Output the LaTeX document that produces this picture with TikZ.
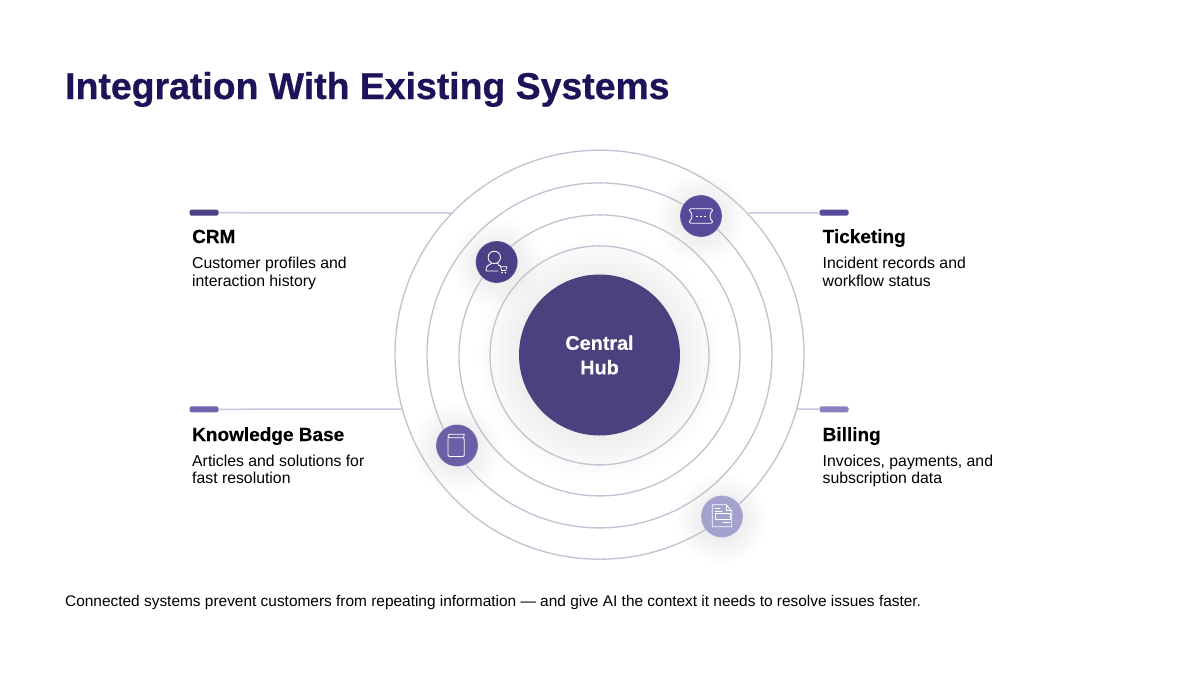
\documentclass[tikz,border=0pt]{standalone}
\usepackage{fontspec}
\setmainfont{Liberation Sans}
\newfontfamily\heavyface[FakeBold=0.7]{Liberation Sans Bold}
\newfontfamily\headface[FakeBold=0.25]{Liberation Sans Bold}
\definecolor{titlec}{HTML}{1F1259}
\definecolor{hubc}{HTML}{4A417F}
\definecolor{ringc}{HTML}{C5C3D3}
\definecolor{linec}{HTML}{C9C6DB}
\definecolor{crmc}{HTML}{4B4085}
\definecolor{tickc}{HTML}{574A9B}
\definecolor{kbc}{HTML}{6B5FA8}
\definecolor{billc}{HTML}{A5A1CF}
\definecolor{billbar}{HTML}{8A7FC0}
\definecolor{kbbar}{HTML}{6F62AE}
\tikzset{
  ring/.style={draw=ringc,line width=1.35pt,fill=none,circle,inner sep=0pt,minimum size=#1},
  barbox/.style={fill=#1,rounded corners=1.5pt,minimum width=29pt,minimum height=6pt,inner sep=0pt},
  leader/.style={draw=linec,line width=1.5pt},
  badge/.style={circle,inner sep=0pt,minimum size=42pt,fill=#1,draw=white,draw opacity=.25,line width=.8pt},
  heading/.style={anchor=base west,inner sep=0pt,font=\fontsize{19}{22}\selectfont\headface,text=black},
  desc/.style={anchor=base west,inner sep=0pt,font=\fontsize{15.8}{17}\selectfont,text=black,align=left},
  icon/.style={draw=white,line width=.85pt,line join=round,line cap=round,fill=none}
}
\newcommand{\softglow}[5]{% x y r step opacity
  \foreach \k in {1,...,16}{
    \fill[black,opacity=#5] (#1,#2) circle ({#3+\k*#4});
  }
}
\begin{document}
\begin{tikzpicture}[x=1pt,y=-1pt]
\useasboundingbox (0,0) rectangle (1200,675);
\fill[white] (0,0) rectangle (1200,675);
% soft glows
\softglow{599.5}{355}{205}{2.2}{.0011}
\softglow{599.5}{358}{80}{2.6}{.0055}
\softglow{497}{264}{20}{1.6}{.0055}
\softglow{701}{218}{20}{1.6}{.0055}
\softglow{457}{448}{20}{1.6}{.0055}
\softglow{722}{519}{20}{1.6}{.0055}
% rings
\coordinate (c) at (599.5,354.7);
\coordinate (d) at (599.5,355.4);
\node[ring=409pt] (r4) at (c) {};
\node[ring=345pt] (r3) at (d) {};
\node[ring=281pt] (r2) at (d) {};
\node[ring=219pt] (r1) at (d) {};
% hub
\node[circle,fill=hubc,minimum size=161pt,inner sep=0pt,text=white,align=center,
  font=\fontsize{19.8}{24.5}\selectfont\headface] (hub) at (599.5,355) {Central\\Hub};
% leaders and bars
\coordinate (crmEnd) at (451,213);
\coordinate (tickEnd) at (749,213);
\coordinate (kbEnd) at (402,409);
\coordinate (billEnd) at (797,409);
\node[barbox=crmc] (crmBar) at (204,212.7) {};
\node[barbox=tickc] (tickBar) at (834,212.7) {};
\node[barbox=kbbar] (kbBar) at (204,409.3) {};
\node[barbox=billbar] (billBar) at (834,409.3) {};
\draw[leader] (crmBar) -- (crmEnd);
\draw[leader] (tickBar) -- (tickEnd);
\draw[leader] (kbBar) -- (kbEnd);
\draw[leader] (billBar) -- (billEnd);
% badges
\node[badge=crmc] (crmB) at (496.7,262) {};
\node[badge=tickc] (tickB) at (701,216) {};
\node[badge=kbc] (kbB) at (457,445.5) {};
\node[badge=billc] (billB) at (722,516.5) {};
% CRM icon: person with cart
\begin{scope}[shift={(496.7,262)}]
  \draw[icon] (-2.4,-4.6) circle (6.2);
  \draw[icon] (-10.6,9) .. controls (-11.2,4.5) and (-8,2.2) .. (-5,1.4) (0.2,1.2) .. controls (1,1.5) and (1.6,1.8) .. (2,2.2) (-10.6,9) -- (1,9);
  \draw[icon,line width=.75pt] (1.8,3.6) -- (3.6,3.6) -- (4.8,8.6) -- (9,8.6) (4,4.8) -- (10.4,4.8) -- (9.2,7.8);
  \fill[white] (5.4,10.6) circle (.9) (8.6,10.6) circle (.9);
\end{scope}
% Ticket icon
\begin{scope}[shift={(701,216)}]
  \draw[icon] (-10,-7.3) -- (10,-7.3) .. controls (11,-7.3) and (11.5,-6.8) .. (11.5,-6) -- (11.5,-5.5) .. controls (10,-4) and (9,-2) .. (9,0) .. controls (9,2) and (10,4) .. (11.5,5.5) -- (11.5,6) .. controls (11.5,6.8) and (11,7.3) .. (10,7.3) -- (-10,7.3) .. controls (-11,7.3) and (-11.5,6.8) .. (-11.5,6) -- (-11.5,5.5) .. controls (-10,4) and (-9,2) .. (-9,0) .. controls (-9,-2) and (-10,-4) .. (-11.5,-5.5) -- (-11.5,-6) .. controls (-11.5,-6.8) and (-11,-7.3) .. (-10,-7.3) -- cycle;
  \draw[icon,dash pattern=on 2pt off 2pt,line cap=butt] (-5.5,0) -- (6,0);
\end{scope}
% Book icon
\begin{scope}[shift={(457,445.5)}]
  \draw[icon] (-9,-7.5) -- (-9,9) .. controls (-9,10.3) and (-8.3,11) .. (-7,11) -- (5.5,11) .. controls (6.7,11) and (7.3,10.3) .. (7.3,9) -- (7.3,-6.5) .. controls (7.3,-7.2) and (6.8,-7.7) .. (6,-7.7) -- (-7,-7.7) .. controls (-8.2,-7.7) and (-9,-8.5) .. (-9,-9.2) .. controls (-9,-10.6) and (-8.2,-11.2) .. (-7,-11.2) -- (7.3,-11.2) -- (6.6,-7.7);
\end{scope}
% Invoice icon
\begin{scope}[shift={(722,516.5)}]
  \draw[icon] (-9.7,-11.7) -- (4,-11.7) -- (9.7,-5.7) -- (9.7,10.3) -- (-9.7,10.3) -- cycle;
  \draw[icon,line width=.75pt] (4,-11.7) -- (4,-5.7) -- (9.7,-5.7);
  \draw[icon,line width=.75pt] (-7,-8) -- (-2,-8) (-7,-5.5) -- (0,-5.5);
  \draw[icon,line width=.75pt] (-7,-2.7) rectangle (8,2.7);
  \draw[icon,line width=.75pt] (0.8,6) -- (8,6);
\end{scope}
% texts
\node[anchor=base west,inner sep=0pt,font=\fontsize{37.4}{40}\selectfont\heavyface,text=titlec] (title) at (65,99) {Integration With Existing Systems};
\node[heading] (crmH) at (192,243) {CRM};
\node[desc] (crmD1) at (192,268.5) {Customer profiles and};
\node[desc] (crmD2) at (192,286) {interaction history};
\node[heading] (tickH) at (822.5,243) {Ticketing};
\node[desc] (tickD1) at (822.5,268.5) {Incident records and};
\node[desc] (tickD2) at (822.5,286) {workflow status};
\node[heading] (kbH) at (192,441) {Knowledge Base};
\node[desc] (kbD1) at (192,466.5) {Articles and solutions for};
\node[desc] (kbD2) at (192,483.5) {fast resolution};
\node[heading] (billH) at (822.5,441) {Billing};
\node[desc] (billD1) at (822.5,466.5) {Invoices, payments, and};
\node[desc] (billD2) at (822.5,483.5) {subscription data};
\node[anchor=base west,inner sep=0pt,font=\fontsize{15.43}{17}\selectfont,text=black] (foot) at (65,606) {Connected systems prevent customers from repeating information — and give AI the context it needs to resolve issues faster.};
\end{tikzpicture}
\end{document}
